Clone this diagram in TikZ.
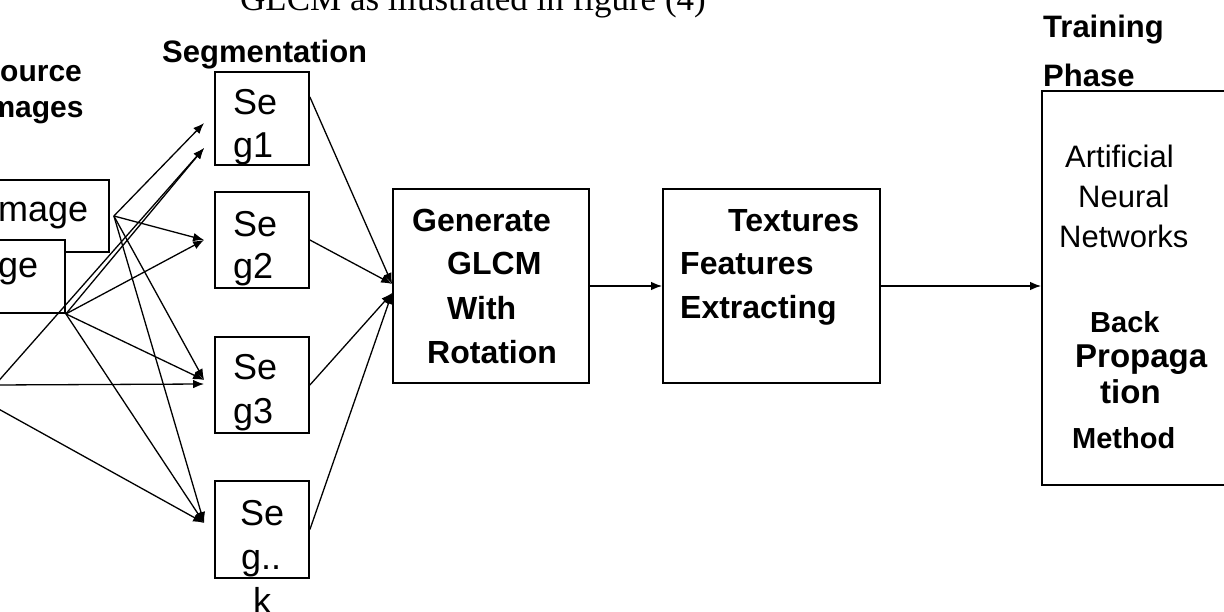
\documentclass[tikz,border=0pt]{standalone}
\usepackage{fontspec}
\setmainfont{Liberation Sans}
\newfontfamily\titleserif{Liberation Serif}
\usetikzlibrary{arrows.meta,calc}
\begin{document}
\begin{tikzpicture}[x=1pt,y=-1pt,
  box/.style={draw, line width=1.8pt, fill=white, inner sep=0pt},
  arr/.style={line width=1.3pt, -{Latex[length=11pt,width=8.5pt]}},
  ln/.style={anchor=base west, inner sep=0pt},
  reg/.style={ln, font=\fontsize{#1}{#1}\selectfont},
  bld/.style={ln, font=\fontsize{#1}{#1}\selectfont\bfseries}]
\useasboundingbox (0,0) rectangle (1224,612);

% title (cut at top)
\node[ln, font=\fontsize{35}{35}\selectfont\titleserif] (title) at (240,11) {GLCM as illustrated in figure (4)};

% source images
\node[bld=30] (src1) at (-20,82) {Source};
\node[bld=30] (src2) at (-20,118) {Images};
\node[box, minimum width=142pt, minimum height=72pt] (img1) at (38,216) {};
\node[reg=36] (img1t) at (-12,222) {Image};
\node[box, minimum width=150pt, minimum height=73pt] (img2) at (-10,276.5) {};
\node[reg=36] (img2t) at (-62,278) {Image};
\coordinate (p3) at (-5,385);
\coordinate (p4) at (-5,407);

% segmentation
\node[bld=31] (segl) at (162,63) {Segmentation};
\node[box, minimum width=94pt, minimum height=93pt] (seg1) at (262,118.5) {};
\node[box, minimum width=94pt, minimum height=96pt] (seg2) at (262,240) {};
\node[box, minimum width=94pt, minimum height=96pt] (seg3) at (262,385) {};
\node[box, minimum width=94pt, minimum height=97pt] (segk) at (262,529.5) {};
\node[reg=36] (s1a) at (233,115) {Se};
\node[reg=36] (s1b) at (233,158) {g1};
\node[reg=36] (s2a) at (233,237) {Se};
\node[reg=36] (s2b) at (233,279) {g2};
\node[reg=36] (s3a) at (233,380) {Se};
\node[reg=36] (s3b) at (233,423) {g3};
\node[reg=36] (ska) at (240,525) {Se};
\node[reg=36] (skb) at (241,569) {g..};
\node[reg=36] (skc) at (253,613) {k};

% generate
\node[box, minimum width=196pt, minimum height=194pt] (gen) at (491,286) {};
\node[bld=32] (g1) at (412,232) {Generate};
\node[bld=32] (g2) at (447,275) {GLCM};
\node[bld=32] (g3) at (447,320) {With};
\node[bld=32] (g4) at (427,363) {Rotation};

% textures
\node[box, minimum width=217pt, minimum height=194pt] (tex) at (771.5,286) {};
\node[bld=32] (t1) at (728,232) {Textures};
\node[bld=32] (t2) at (680,275) {Features};
\node[bld=32] (t3) at (680,319) {Extracting};

% training
\node[bld=31] (tr1) at (1043,38) {Training};
\node[bld=31] (tr2) at (1043,87) {Phase};
\node[box, minimum width=218pt, minimum height=394pt] (train) at (1151,288) {};
\node[reg=31] (a1) at (1065,168) {Artificial};
\node[reg=31] (a2) at (1078,208) {Neural};
\node[reg=31] (a3) at (1059,248) {Networks};
\node[bld=29] (b1) at (1090,333) {Back};
\node[bld=33] (b2) at (1075,367) {Propaga};
\node[bld=33] (b3) at (1100,403) {tion};
\node[bld=29] (b4) at (1072,448) {Method};

% sources to segments
\coordinate (p1) at ([xshift=4pt]img1.east);
\coordinate (p2) at (img2.south east);
\coordinate (t1a) at ([xshift=-10pt,yshift=-4.5pt]seg1.west);
\coordinate (t1b) at ([xshift=-10pt,yshift=-29.5pt]seg1.west);
\coordinate (t2) at ([xshift=-10pt]seg2.west);
\coordinate (t3) at ([xshift=-10pt,yshift=5pt]seg3.west);
\coordinate (t3h) at ([xshift=-10pt,yshift=1pt]seg3.west);
\coordinate (tk) at ([xshift=-10pt,yshift=6.5pt]segk.west);

\draw[arr] (p1) -- (t1a);
\draw[arr] (p1) -- (t2);
\draw[arr] (p1) -- (t3);
\draw[arr] (p1) -- (tk);
\draw[arr] (p2) -- (t1b);
\draw[arr] (p2) -- (t2);
\draw[arr] (p2) -- (t3);
\draw[arr] (p2) -- (tk);
\draw[arr] (p3) -- (t1b);
\draw[arr] (p3) -- (t3h);
\draw[arr] (p4) -- (tk);

% segments to generate
\draw[arr] ([yshift=21.5pt]seg1.east) -- ([yshift=2pt]gen.west);
\draw[arr] (seg2.east) -- ([yshift=2pt]gen.west);
\draw[arr] (seg3.east) -- ([yshift=-7pt]gen.west);
\draw[arr] (segk.east) -- ([yshift=-7pt]gen.west);

% pipeline
\draw[arr] (gen.east) -- (tex.west);
\draw[arr] (tex.east) -- (tex.east -| train.west);
\end{tikzpicture}
\end{document}
